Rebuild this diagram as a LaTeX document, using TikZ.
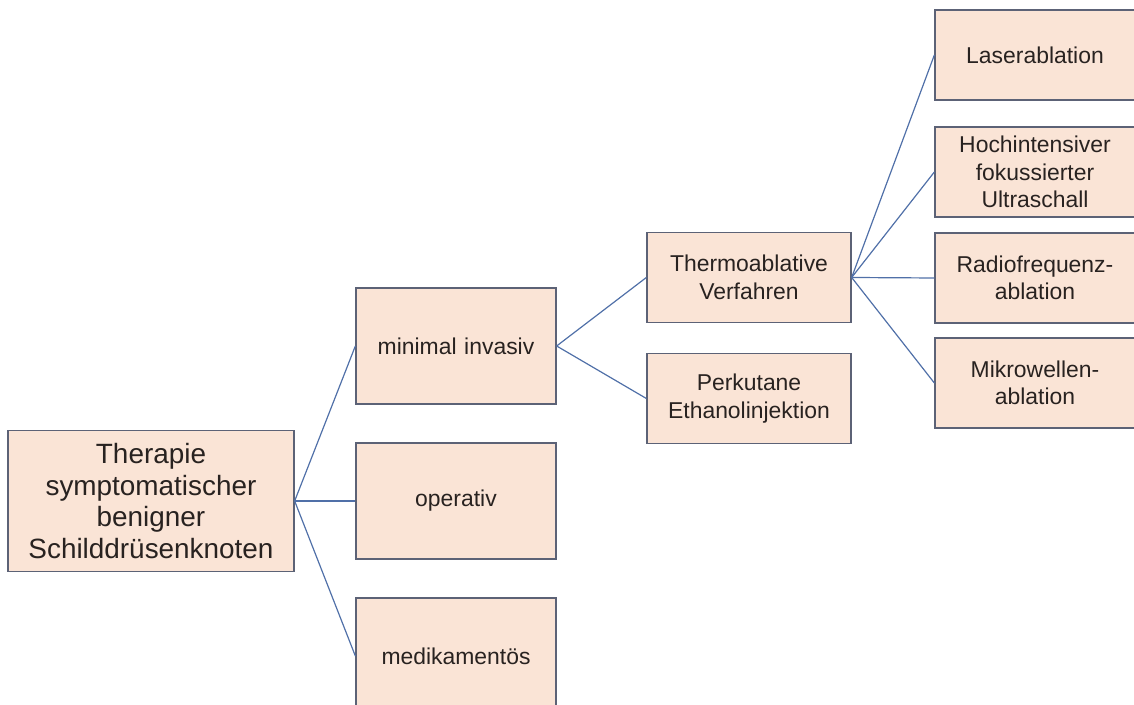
\documentclass[tikz,border=0pt]{standalone}
\usepackage{fontspec}
\setmainfont{Liberation Sans}
\usepackage{tikz}
\usetikzlibrary{positioning}
\usetikzlibrary{trees}

\definecolor{boxfill}{RGB}{250,228,214}
\definecolor{boxline}{RGB}{92,98,118}
\definecolor{edgeblue}{RGB}{80,112,168}
\definecolor{textdark}{RGB}{40,34,32}

\begin{document}
\begin{tikzpicture}[x=1bp,y=1bp,grow'=right,
                level 1/.style={level distance=305bp,sibling distance=155bp},
                level 2/.style={level distance=293bp,sibling distance=121bp},
                edge from parent/.style={draw=edgeblue,line width=1.2bp},
                edge from parent path={(\tikzparentnode.east) -- (\tikzchildnode.west)},
                every node/.style={rectangle, draw=boxline, line width=1.3bp, fill=boxfill,
                    text=textdark, inner sep=0pt, align=center,
                    font=\fontsize{23}{27.5}\selectfont},
                root/.style={text width=286bp, minimum height=141bp, font=\fontsize{28}{32}\selectfont},
                branch/.style={text width=200bp, minimum height=116bp},
                method/.style={text width=204bp, minimum height=90bp},
                leaf/.style={text width=200bp, minimum height=90bp}]
            \useasboundingbox (0,0) rectangle (1134,705);
            \node[root] (therapie) at (151,204) {Therapie\\symptomatischer\\benigner\\Schilddrüsenknoten}
            child {node[branch] (invasiv) {minimal invasiv}
                    child {node[method,yshift=8bp] (thermo) {Thermoablative\\Verfahren}}
                    child {node[method,yshift=8bp] (ethanol) {Perkutane\\Ethanolinjektion}}
                }
            child {node[branch] (operativ) {operativ}}
            child {node[branch] (medikament) {medikamentös}};

            % thermoablative Verfahren
            \node[leaf] (laser) at (1035,650) {Laserablation};
            \node[leaf] (hifu) at (1035,533) {Hochintensiver\\fokussierter\\Ultraschall};
            \node[leaf] (rfa) at (1035,427) {Radiofrequenz-\\ablation};
            \node[leaf] (mwa) at (1035,322) {Mikrowellen-\\ablation};
            \foreach \leafnode in {laser,hifu,rfa,mwa}
                \draw[draw=edgeblue,line width=1.2bp] (thermo.east) -- (\leafnode.west);
        \end{tikzpicture}
\end{document}
